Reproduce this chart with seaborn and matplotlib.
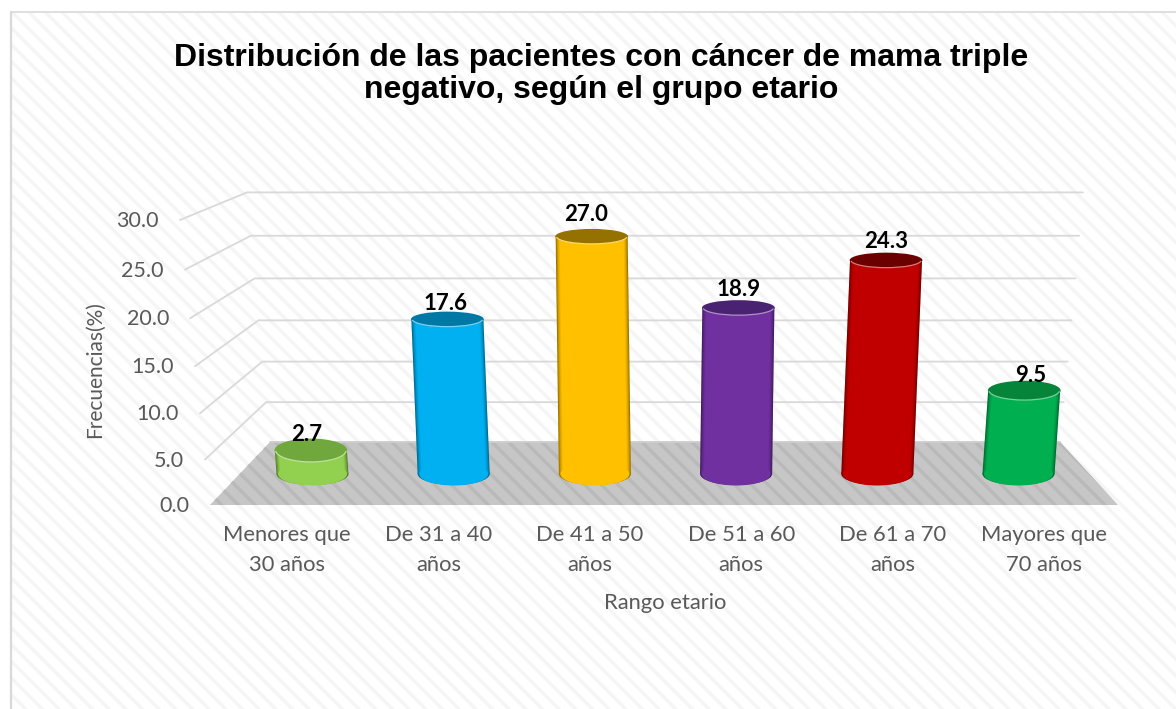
import matplotlib
matplotlib.use("Agg")
import matplotlib.pyplot as plt
import matplotlib.patches as mpatches
from matplotlib.colors import to_rgb
from matplotlib.transforms import Affine2D
import numpy as np
import pandas as pd
import seaborn as sns

categorias = ["Menores que\n30 años", "De 31 a 40\naños", "De 41 a 50\naños",
              "De 51 a 60\naños", "De 61 a 70\naños", "Mayores que\n70 años"]
frecuencias = [2.7, 17.6, 27.0, 18.9, 24.3, 9.5]
colores = ["#92D050", "#00B0F0", "#FFC000", "#7030A0", "#C00000", "#00B050"]
colores_tapa = ["#71A83E", "#0078A5", "#957200", "#4A2272", "#6B0000", "#05843A"]
ticks_y = [0, 5, 10, 15, 20, 25, 30]
titulo = "Distribución de las pacientes con cáncer de mama triple\nnegativo, según el grupo etario"

# Offsets of the value labels from the cap centre, in pixels
label_dx = [-4, -2, -6, 0, 0, 6]
label_dy = [16, 16, 22, 18, 19, 15]

sns.set_theme(style="white")
plt.rcParams["font.family"] = ["Lato", "DejaVu Sans"]
plt.rcParams["hatch.linewidth"] = 2.4

W, H = 1176, 709
fig = plt.figure(figsize=(W / 100, H / 100), dpi=100, facecolor="white")


# Perspective of the back wall and the left side, in pixels
def back_y(v):
    return 442 - 7.9 * v - 0.014 * v ** 2


def front_y(v):
    return 505 - 9.0 * v - 0.0167 * v ** 2


def front_x(v):
    return 210 - v


def back_left(v):
    return 270 - 0.767 * v


def back_right(v):
    return 1060 + 0.767 * v


# Background layer in pixel coordinates
bg = fig.add_axes([0, 0, 1, 1], zorder=0)
bg.set_xlim(0, W)
bg.set_ylim(H, 0)
bg.axis("off")

bg.add_patch(mpatches.Rectangle((12, 13), W, H, facecolor="white", edgecolor="#F5F5F5",
                                hatch="\\\\", linewidth=0))
bg.plot([11, 11], [12, H], color="#D9D9D9", lw=1.6)
bg.plot([11, W], [12, 12], color="#D9D9D9", lw=1.2)

for v in ticks_y[1:]:
    bg.plot([front_x(v), back_left(v), back_right(v)], [front_y(v), back_y(v), back_y(v)],
            color="#D9D9D9", lw=1.3, solid_joinstyle="miter")

# Floor
bg.add_patch(mpatches.Polygon([(front_x(0), front_y(0)), (back_left(0), back_y(0)),
                               (back_right(0), back_y(0)), (1118, front_y(0))],
                              closed=True, facecolor="#C6C6C6", edgecolor="#B9B9B9",
                              hatch="\\\\", linewidth=0))
bg.plot([back_left(0), back_right(0)], [back_y(0), back_y(0)], color="#CDCDCD", lw=1.3)

for v in ticks_y:
    bg.text(front_x(v) - 21, front_y(v) + 1, f"{v:.1f}", ha="right", va="center",
            fontsize=15.5, color="#595959")

for i, cat in enumerate(categorias):
    bg.text(287 + 151.4 * i, 550, cat, ha="center", va="center", fontsize=15.8,
            color="#595959", linespacing=1.6)

bg.text(95, 370, "Frecuencias(%)", rotation=90, ha="center", va="center",
        fontsize=15, color="#595959")
bg.text(665, 603, "Rango etario", ha="center", va="center", fontsize=15.8, color="#595959")
bg.text(601, 74, titulo, ha="center", va="center", fontsize=23, fontweight="bold",
        family=["Liberation Sans"], color="black", linespacing=1.12)

# Bars, y scale chosen so that 0 sits at pixel 474 with 8.8 px per unit
px_x = 141.2
px_y = 8.8
left = 312.5 - px_x / 2
ax = fig.add_axes([left / W, (H - 474) / H, 6 * px_x / W, 30 * px_y / H], zorder=1)
ax.patch.set_alpha(0)

df = pd.DataFrame({"rango": categorias, "frecuencia": frecuencias})
sns.barplot(data=df, x="rango", y="frecuencia", hue="rango", palette=colores,
            width=0.51, saturation=1, legend=False, ax=ax, zorder=3, linewidth=0)
ax.set_xlim(-0.5, 5.5)
ax.set_ylim(0, 30)
ax.axis("off")

for i, bar in enumerate(ax.patches[:len(frecuencias)]):
    v = bar.get_height()
    x0, w = bar.get_x(), bar.get_width()
    centro = x0 + w / 2

    # Lean of the cylinder grows towards the sides of the floor
    k = (i - 2.5) * 0.24 / px_x
    lean = Affine2D.from_values(1, 0, k, 1, 0, 0) + ax.transData
    bar.set_transform(lean)
    bar.set_clip_on(False)

    # Bottom of the cylinder, the dark ring carries the side shading round the curve
    oscuro = tuple(c * 0.6 for c in to_rgb(colores[i]))
    ax.add_patch(mpatches.Ellipse((centro, 0), w, 22 / px_y, facecolor=oscuro,
                                  edgecolor="none", zorder=2.8, clip_on=False))
    ax.add_patch(mpatches.Ellipse((centro, 0), w - 3 / px_x, 23 / px_y, facecolor=colores[i],
                                  edgecolor="none", zorder=3.2, clip_on=False))

    # Dark strips along the sides
    for j, alpha in enumerate([0.38, 0.24, 0.13, 0.05]):
        for xs in (x0 + j / px_x, x0 + w - (j + 1) / px_x):
            strip = mpatches.Rectangle((xs, 0), 1 / px_x, v, facecolor="black", alpha=alpha,
                                       edgecolor="none", zorder=3.1, clip_on=False)
            strip.set_transform(lean)
            ax.add_patch(strip)

    # Cap, flatter the higher it is
    alto = 2 * max(7.5, 12.5 - 0.3 * v) / px_y
    tope = centro + k * v
    ax.add_patch(mpatches.Ellipse((tope, v), w * 1.01, alto, facecolor=colores_tapa[i],
                                  edgecolor="none", zorder=4, clip_on=False))
    ax.add_patch(mpatches.Arc((tope, v), w * 0.98, alto, theta1=200, theta2=340,
                              color=sns.light_palette(colores[i], 3, reverse=True)[1],
                              lw=0.9, zorder=4.1, clip_on=False))

    ax.annotate(f"{v:.1f}", (tope, v), xytext=(label_dx[i] * 0.72, label_dy[i] * 0.72),
                textcoords="offset points", ha="center", va="center", fontsize=16,
                fontweight="bold", color="black", zorder=5, annotation_clip=False)

fig.savefig("out.png", dpi=100)
